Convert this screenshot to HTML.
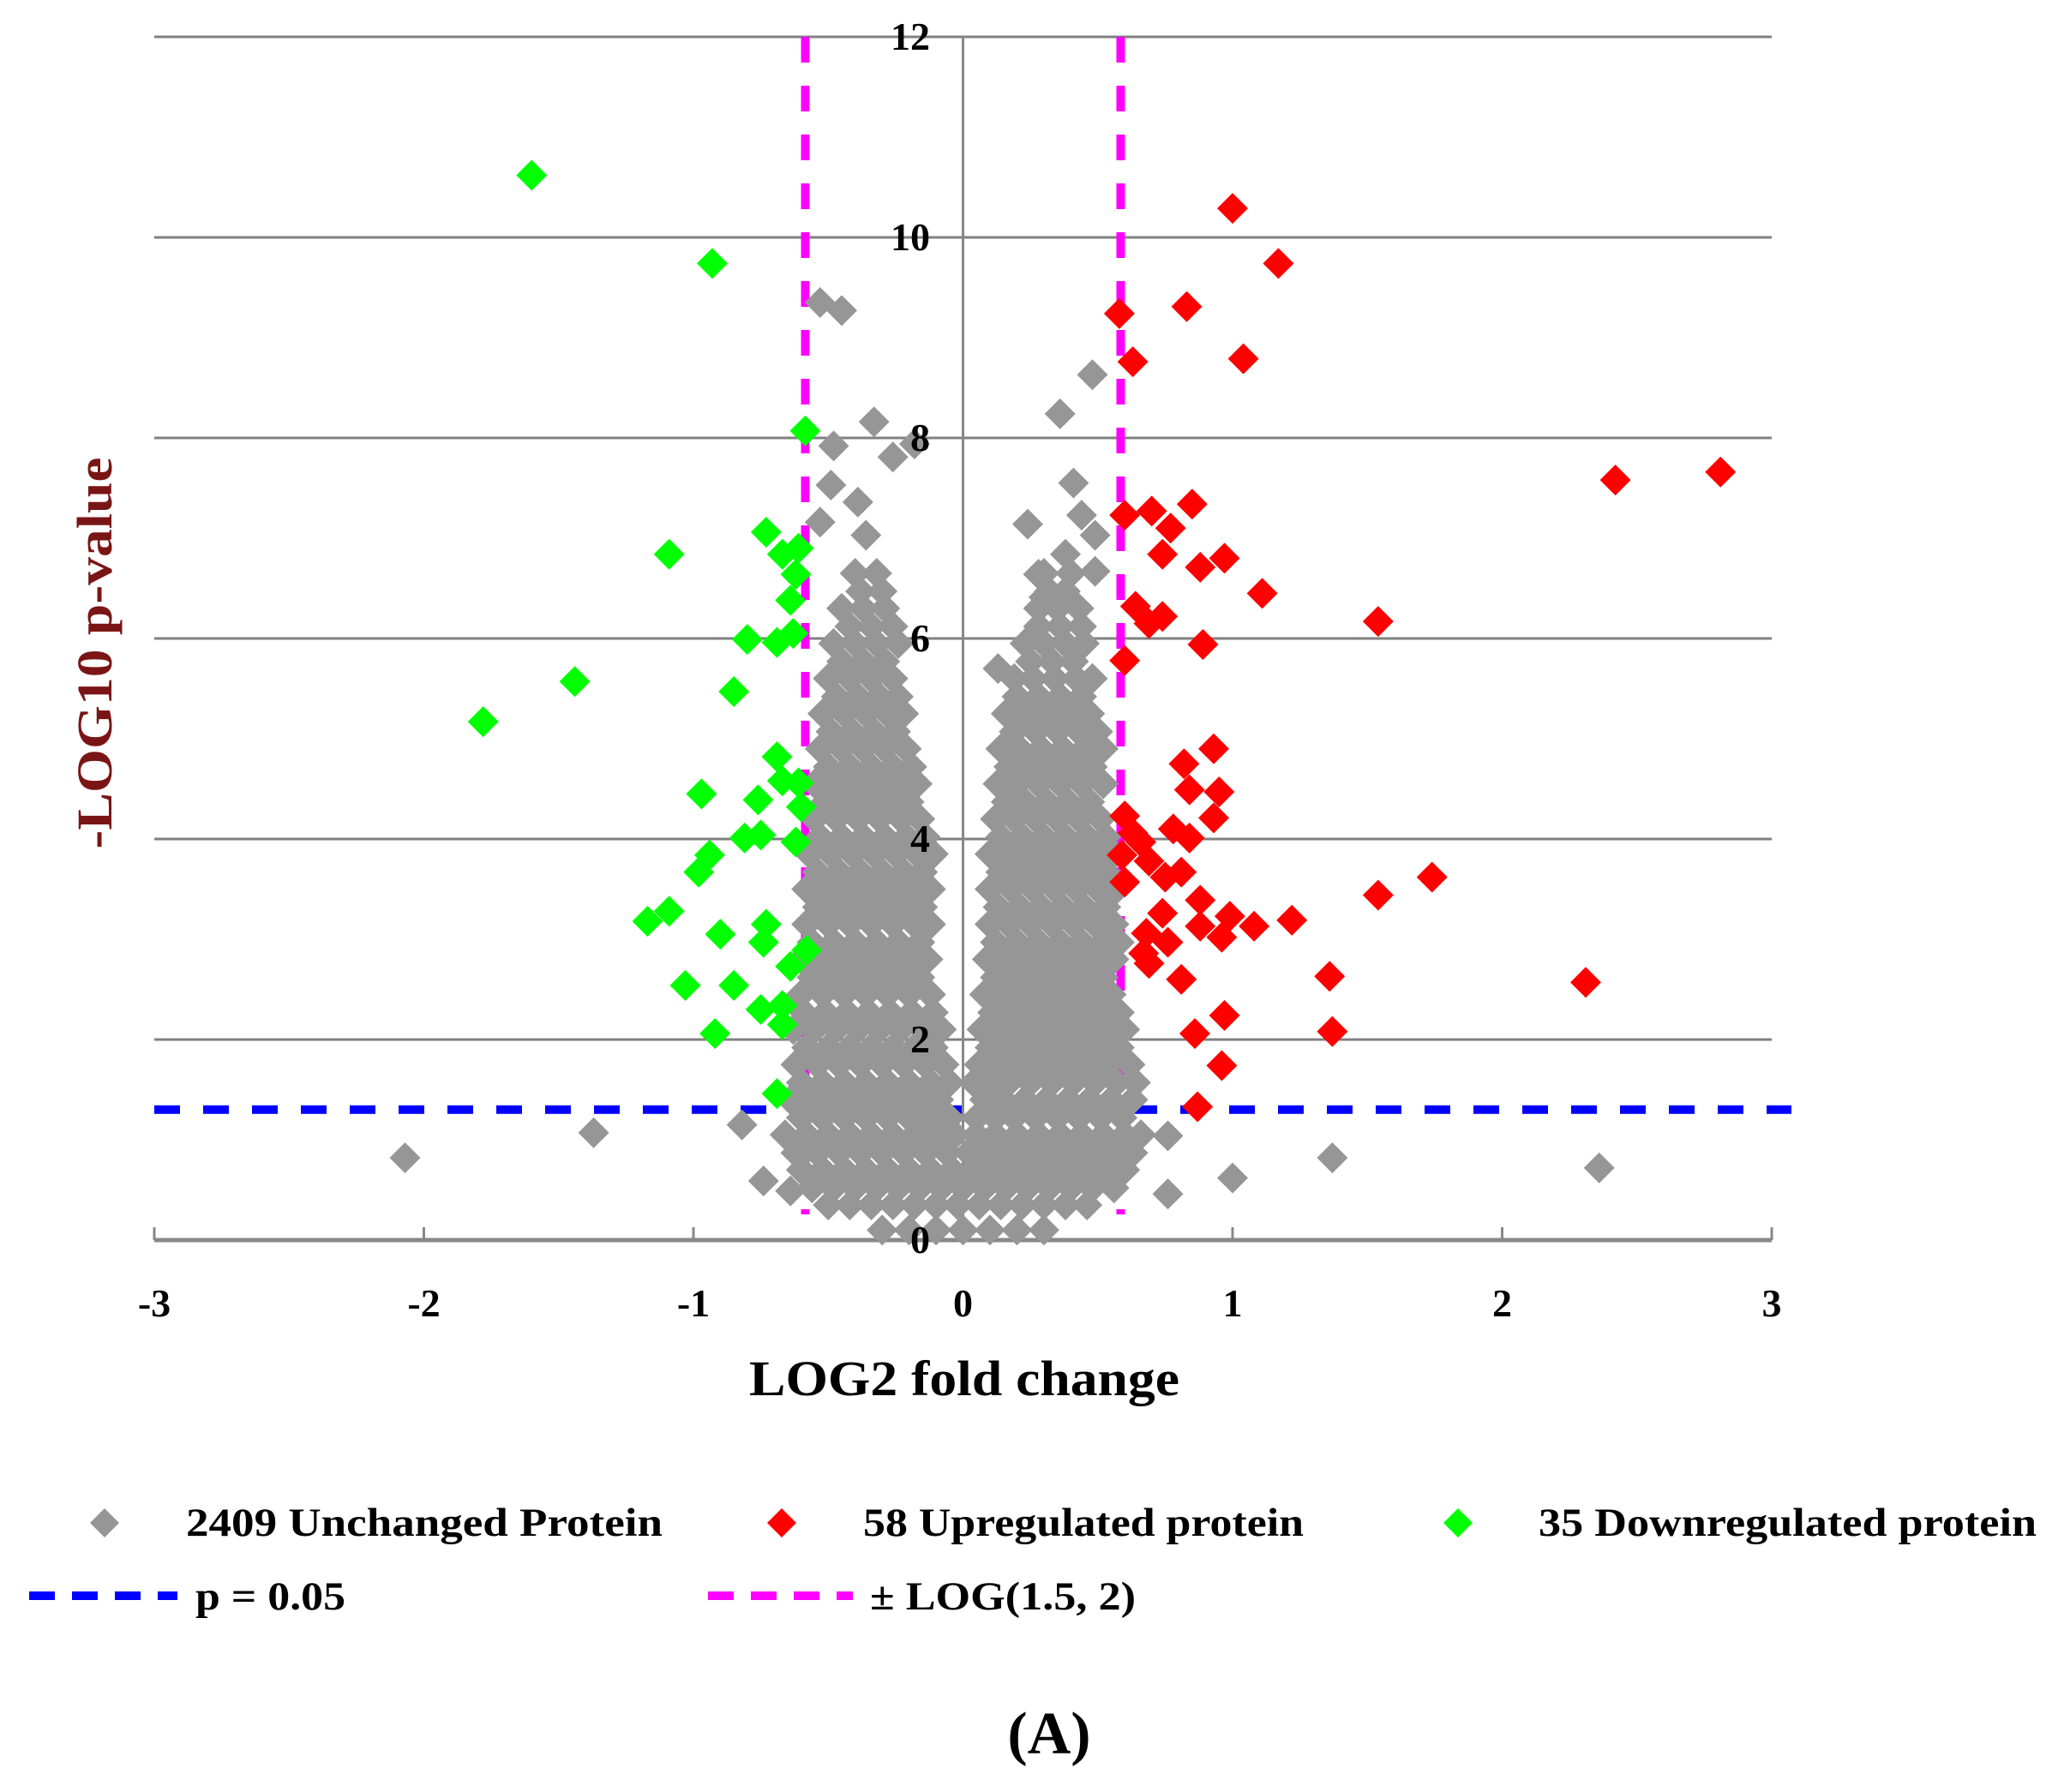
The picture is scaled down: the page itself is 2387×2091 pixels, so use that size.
<!DOCTYPE html>
<html><head><meta charset="utf-8"><style>
html,body{margin:0;padding:0;background:#fff;}
svg{display:block;font-family:"Liberation Serif",serif;font-weight:bold;}
</style></head><body>
<svg id="chart" width="2387" height="2091" viewBox="0 0 2387 2091" xmlns="http://www.w3.org/2000/svg">
<g id="grid"></g>
<g id="lines"></g>
<g id="pts"></g>
<g id="labels"></g>
<text x="1125" y="1628" font-size="58" text-anchor="middle" textLength="502" lengthAdjust="spacingAndGlyphs">LOG2 fold change</text>
<text transform="translate(130,762) rotate(-90)" font-size="58" text-anchor="middle" fill="#7a1515" textLength="457" lengthAdjust="spacingAndGlyphs">-LOG10 p-value</text>
<g font-size="47">
<path d="M122 1760 L139 1777 L122 1794 L105 1777Z" fill="#969696"/>
<text x="217" y="1792" textLength="556" lengthAdjust="spacingAndGlyphs">2409 Unchanged Protein</text>
<path d="M912 1760 L929 1777 L912 1794 L895 1777Z" fill="#ff0000"/>
<text x="1007" y="1792" textLength="514" lengthAdjust="spacingAndGlyphs">58 Upregulated protein</text>
<path d="M1701 1760 L1718 1777 L1701 1794 L1684 1777Z" fill="#00ff00"/>
<text x="1795" y="1792" textLength="581" lengthAdjust="spacingAndGlyphs">35 Downregulated protein</text>
<line x1="34" y1="1862" x2="207" y2="1862" stroke="#0000ff" stroke-width="10" stroke-dasharray="30,20"/>
<text x="228" y="1878" textLength="175" lengthAdjust="spacingAndGlyphs">p = 0.05</text>
<line x1="826" y1="1862" x2="995" y2="1862" stroke="#ff00ff" stroke-width="10" stroke-dasharray="30,20"/>
<text x="1015" y="1878" textLength="310" lengthAdjust="spacingAndGlyphs">± LOG(1.5, 2)</text>
</g>
<text x="1224" y="2046" font-size="70" text-anchor="middle">(A)</text>
</svg>
<script>
const xTicks=[-3,-2,-1,0,1,2,3];
const yTicks=[0,2,4,6,8,10,12];
const greenX=[-1.60,-0.93,-0.585,-1.09,-1.44,-1.78,-0.73,-0.67,-0.61,-0.64,-0.62,-0.80,-0.69,-0.63,-0.85,-0.69,-0.97,-0.76,-0.67,-0.61,-0.60,-0.94,-0.98,-0.81,-0.75,-0.62,-1.17,-1.09,-0.90,-0.73,-0.74,-0.58,-0.64,-1.03,-0.85,-0.75,-0.67,-0.92,-0.67,-0.69];
const greenY=[10.62,9.74,8.07,6.84,5.57,5.17,7.06,6.84,6.9,6.38,6.64,5.99,5.96,6.05,5.47,4.82,4.45,4.39,4.58,4.56,4.32,3.84,3.67,4.01,4.04,3.97,3.18,3.28,3.05,3.15,2.97,2.89,2.73,2.54,2.54,2.30,2.34,2.06,2.15,1.46];
const redX=[1.00,1.17,0.58,0.83,0.63,1.04,2.42,2.81,0.60,0.70,0.85,0.77,0.74,0.88,0.97,1.11,0.64,0.69,0.74,1.54,0.89,0.60,0.93,0.82,0.84,0.95,0.93,0.60,0.63,0.66,0.78,0.84,0.59,0.69,0.75,0.81,0.60,1.74,1.54,0.74,0.88,0.99,1.08,1.22,0.88,0.68,0.76,0.67,0.96,0.69,0.81,1.36,2.31,0.97,0.86,1.37,0.96,0.87];
const redY=[10.29,9.74,9.24,9.31,8.76,8.79,7.58,7.66,7.23,7.27,7.34,7.10,6.84,6.71,6.80,6.45,6.32,6.15,6.22,6.17,5.94,5.78,4.90,4.75,4.49,4.47,4.21,4.23,4.06,3.97,4.10,4.01,3.84,3.78,3.62,3.67,3.57,3.62,3.44,3.26,3.39,3.23,3.13,3.19,3.13,3.06,2.97,2.86,3.02,2.76,2.60,2.63,2.57,2.24,2.06,2.08,1.74,1.33];
const greyOutX=[-2.07,-1.37,-0.82,-0.53,-0.45,-0.33,-0.48,-0.26,-0.18,-0.49,-0.39,-0.53,-0.36,0.48,0.36,0.41,0.24,0.44,0.49,0.38,0.28,0.49,0.30,0.13,1.37,1.00,2.36,0.76,0.76,-0.74,-0.64,-0.60];
const greyOutY=[0.82,1.07,1.15,9.35,9.27,8.16,7.92,7.81,7.94,7.53,7.36,7.16,7.03,8.63,8.24,7.55,7.14,7.23,7.03,6.84,6.64,6.67,6.41,5.70,0.82,0.62,0.72,0.46,1.04,0.59,0.49,0.85];
const cloudRowY=[0.1,0.35,0.7,1.05,1.4,1.75,2.1,2.45,2.8,3.15,3.5,3.85,4.2,4.55,4.9,5.25,5.6,5.95,6.3,6.65,
0.52,0.87,1.22,1.57,1.92,2.27,2.62,2.97,3.32,3.67,4.02,4.37,4.72,5.07,5.42,5.77,6.12,6.47];
const cloudRowX=[
[-0.3,-0.2,-0.1,0,0.1,0.2,0.3],
[-0.5,-0.42,-0.34,-0.26,-0.18,-0.1,-0.02,0.06,0.14,0.22,0.3,0.38,0.46],
[-0.6,-0.52,-0.44,-0.36,-0.28,-0.2,-0.12,-0.04,0.04,0.12,0.2,0.28,0.36,0.44,0.52,0.6],
[-0.66,-0.58,-0.5,-0.42,-0.34,-0.26,-0.18,-0.1,-0.03,0.05,0.12,0.2,0.28,0.36,0.44,0.52,0.6,0.66],
[-0.64,-0.56,-0.48,-0.4,-0.32,-0.24,-0.16,-0.09,0.08,0.15,0.23,0.31,0.39,0.47,0.55,0.63],
[-0.62,-0.54,-0.46,-0.38,-0.3,-0.22,-0.14,-0.07,0.06,0.13,0.21,0.29,0.37,0.45,0.53,0.62],
[-0.63,-0.55,-0.47,-0.39,-0.31,-0.23,-0.15,-0.08,0.07,0.14,0.22,0.3,0.38,0.46,0.54,0.6],
[-0.6,-0.52,-0.44,-0.36,-0.28,-0.2,-0.12,0.08,0.15,0.23,0.31,0.39,0.47,0.55],
[-0.6,-0.52,-0.44,-0.36,-0.28,-0.2,-0.13,0.09,0.16,0.24,0.32,0.4,0.48,0.56],
[-0.58,-0.5,-0.42,-0.34,-0.26,-0.18,-0.12,0.1,0.17,0.25,0.33,0.41,0.49,0.56],
[-0.58,-0.5,-0.42,-0.34,-0.26,-0.18,-0.12,0.1,0.18,0.26,0.34,0.42,0.5,0.57],
[-0.57,-0.49,-0.41,-0.33,-0.25,-0.17,-0.11,0.1,0.18,0.26,0.34,0.42,0.5,0.56],
[-0.55,-0.47,-0.39,-0.31,-0.23,-0.16,0.12,0.19,0.27,0.35,0.43,0.51],
[-0.55,-0.47,-0.39,-0.31,-0.23,-0.17,0.13,0.2,0.28,0.36,0.44,0.52],
[-0.53,-0.45,-0.37,-0.29,-0.21,0.14,0.21,0.29,0.37,0.45,0.52],
[-0.52,-0.44,-0.36,-0.28,-0.22,0.16,0.23,0.31,0.39,0.47],
[-0.5,-0.42,-0.34,-0.26,0.19,0.26,0.34,0.42,0.48],
[-0.48,-0.4,-0.32,-0.24,0.23,0.3,0.38,0.45],
[-0.45,-0.37,-0.29,0.28,0.35,0.43],
[-0.4,-0.32,0.3,0.4],
[-0.56,-0.48,-0.4,-0.32,-0.24,-0.16,-0.08,0,0.08,0.16,0.24,0.32,0.4,0.48,0.56],
[-0.62,-0.54,-0.46,-0.38,-0.3,-0.22,-0.14,-0.06,0.02,0.09,0.16,0.24,0.32,0.4,0.48,0.56,0.63],
[-0.6,-0.52,-0.44,-0.36,-0.28,-0.2,-0.13,-0.05,0.05,0.12,0.19,0.27,0.35,0.43,0.51,0.59],
[-0.6,-0.52,-0.44,-0.36,-0.28,-0.2,-0.12,-0.05,0.04,0.1,0.17,0.25,0.33,0.41,0.49,0.57,0.64],
[-0.58,-0.5,-0.42,-0.34,-0.26,-0.18,-0.11,0.1,0.18,0.26,0.34,0.42,0.5,0.58],
[-0.59,-0.51,-0.43,-0.35,-0.27,-0.19,-0.11,0.11,0.19,0.27,0.35,0.43,0.51,0.58],
[-0.56,-0.48,-0.4,-0.32,-0.24,-0.16,0.12,0.2,0.28,0.36,0.44,0.52],
[-0.56,-0.48,-0.4,-0.32,-0.24,-0.16,0.12,0.2,0.28,0.36,0.44,0.52,0.58],
[-0.54,-0.46,-0.38,-0.3,-0.22,-0.15,0.13,0.21,0.29,0.37,0.45,0.53],
[-0.54,-0.46,-0.38,-0.3,-0.22,-0.15,0.14,0.22,0.3,0.38,0.46,0.53],
[-0.53,-0.45,-0.37,-0.29,-0.21,-0.14,0.14,0.22,0.3,0.38,0.46,0.53],
[-0.51,-0.43,-0.35,-0.27,-0.2,0.16,0.23,0.31,0.39,0.47],
[-0.5,-0.42,-0.34,-0.26,-0.19,0.17,0.25,0.33,0.41,0.48],
[-0.49,-0.41,-0.33,-0.25,0.19,0.27,0.35,0.43,0.5],
[-0.47,-0.39,-0.31,-0.24,0.2,0.28,0.36,0.44],
[-0.45,-0.37,-0.29,0.25,0.33,0.41],
[-0.42,-0.34,-0.26,0.28,0.36,0.44],
[-0.38,-0.3,0.32,0.38]];
const pThreshold=1.301, foldThreshold=0.585;

const NS="http://www.w3.org/2000/svg";
const X0=180,X1=2067,Y0=1447,Y1=43;
const sx=v=>X0+(v+3)/6*(X1-X0);
const sy=v=>Y0-v/12*(Y0-Y1);
function mk(tag,attrs,parent){const e=document.createElementNS(NS,tag);for(const k in attrs)e.setAttribute(k,attrs[k]);parent.appendChild(e);return e;}
const grid=document.getElementById('grid'),lines=document.getElementById('lines'),pts=document.getElementById('pts'),labels=document.getElementById('labels');
yTicks.forEach(t=>{
  if(t===0)return;
  const l=mk('line',{x1:X0,x2:X1,y1:sy(t),y2:sy(t),stroke:'#808080','stroke-width':3},grid);
  
  
});
const ax=mk('line',{x1:X0,x2:X1,y1:sy(0),y2:sy(0),stroke:'#888','stroke-width':5},grid);


const ay=mk('line',{x1:sx(0),x2:sx(0),y1:sy(12),y2:sy(0),stroke:'#888','stroke-width':3},grid);


xTicks.forEach(t=>{
  const tk=mk('line',{x1:sx(t),x2:sx(t),y1:sy(0)-15,y2:sy(0),stroke:'#888','stroke-width':3},grid);
  
  
  const tx=mk('text',{x:sx(t),y:1536,'font-size':46,'text-anchor':'middle'},labels);
  tx.textContent=(t<0?'-':'')+Math.abs(t);
  
  
});
yTicks.forEach(t=>{
  const tx=mk('text',{x:1085,y:sy(t)+15,'font-size':46,'text-anchor':'end'},labels);
  tx.textContent=t;
  
  
});
const pl=mk('line',{x1:X0,x2:2090,y1:sy(pThreshold),y2:sy(pThreshold),stroke:'#0000ff','stroke-width':10,'stroke-dasharray':'30,27'},lines);


[-foldThreshold,foldThreshold].forEach(f=>{
  const l=mk('line',{x1:sx(f),x2:sx(f),y1:sy(12),y2:sy(0)-30,stroke:'#ff00ff','stroke-width':10,'stroke-dasharray':'30,27'},lines);
  
  
});
function dia(x,y,c,name){
  const px=sx(x),py=sy(y),r=18;
  const p=mk('path',{d:`M${px} ${py-r}L${px+r} ${py}L${px} ${py+r}L${px-r} ${py}Z`,fill:c},pts);
  
  
}
cloudRowY.forEach((y,i)=>cloudRowX[i].forEach(x=>dia(x,y,'#969696','point-unchanged')));
greyOutX.forEach((x,i)=>dia(x,greyOutY[i],'#969696','point-unchanged'));
redX.forEach((x,i)=>dia(x,redY[i],'#ff0000','point-upregulated'));
greenX.forEach((x,i)=>dia(x,greenY[i],'#00ff00','point-downregulated'));
</script>
</body></html>
